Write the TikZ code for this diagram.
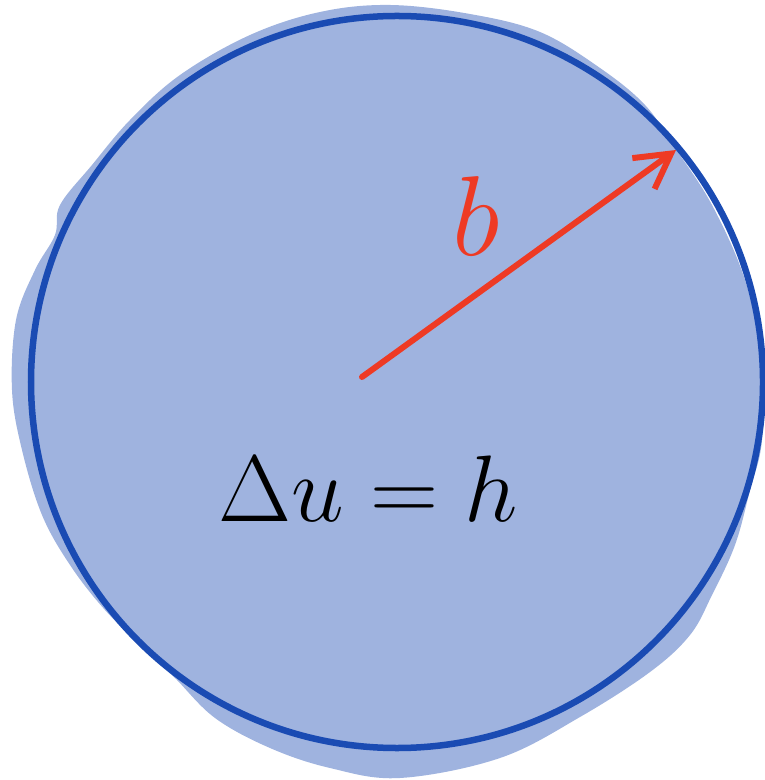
\documentclass[tikz,border=0pt]{standalone}
\usetikzlibrary{arrows.meta}
\definecolor{blobfill}{HTML}{9FB3DF}
\definecolor{rimblue}{HTML}{1A4BB3}
\definecolor{radred}{HTML}{EE3A24}
\begin{document}
\begin{tikzpicture}[x=0.01cm,y=-0.01cm,>={Straight Barb[length=3.4mm,width=3.8mm]}]
 \useasboundingbox (0,0) rectangle (765,780);
 % shaded blob behind the disc
 \fill[blobfill] plot[smooth cycle,tension=0.6] coordinates {(390,5) (470,14) (540,32) (600,68) (645,105) (675,148) (712,205) (745,280) (762,360) (762,440) (750,490) (735,545) (712,595) (690,635) (650,672) (580,717) (500,758) (400,778) (330,768) (270,748) (215,718) (175,678) (150,655) (105,610) (70,565) (42,515) (22,450) (12,390) (16,320) (35,270) (55,235) (60,205) (92,165) (130,120) (180,75) (250,35) (320,12)};
 \coordinate (c) at (362,377);
 \coordinate (rim) at (676,150);
 \draw[rimblue,line width=6.5pt*0.2845] (397,382) circle (366);
 \draw[radred,line width=6pt*0.2845,line cap=round,->] (c) -- (rim);
 \node[radred,font=\Huge,scale=1.3,anchor=base] (b) at (476,256) {$b$};
 \node[font=\Huge,scale=1.08,anchor=base] (eq) at (368,521) {$\Delta u = h$};
\end{tikzpicture}
\end{document}
